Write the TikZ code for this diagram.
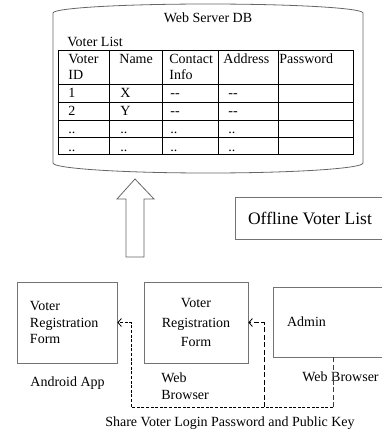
\documentclass[tikz,border=0pt]{standalone}
\usepackage{fontspec}
\setmainfont{Liberation Serif}
\usetikzlibrary{arrows.meta,positioning}

\begin{document}
\begin{tikzpicture}[x=1pt,y=-1pt,line width=0.8pt]
	  \tikzstyle{cell}=[anchor=base west,inner sep=0pt,font=\fontsize{14}{16}\selectfont]
	  \tikzstyle{form}=[draw=black!55,rectangle,inner xsep=0pt,minimum height=81pt,font=\fontsize{14}{16.5}\selectfont]
	  \tikzstyle{label}=[inner sep=0pt,align=left,font=\fontsize{14}{17}\selectfont]
	  \tikzstyle{link}=[dash pattern=on 3pt off 1.6pt,-{Straight Barb[length=3.5pt,width=8pt]}]

	  \useasboundingbox (0,0) rectangle (382,432);

	  % database cylinder
	  \draw[black!60] (53,13) -- (53,163)
	    arc[start angle=180,end angle=360,x radius=155pt,y radius=10pt]
	    -- (363,13)
	    arc[start angle=0,end angle=180,x radius=155pt,y radius=9pt];
	  \node[cell,anchor=center] (DB) at (208,18) {Web Server DB};
	  \node[cell,anchor=west] (VL) at (67,42) {Voter List};

	  % table
	  \draw (58,50) rectangle (353,154);
	  \foreach \y in {84,102,120,137} \draw (58,\y) -- (353,\y);
	  \foreach \x in {109,162,218,278} \draw (\x,50) -- (\x,154);
	  \foreach \x/\y/\t [count=\i] in {68/63.5/Voter,68/79.5/ID,119/63.5/Name,169/63.5/Contact,
	      169/79.5/Info,223/63.5/Address,279/63.5/Password,
	      68/97.5/1,120/97.5/X,170/97.5/-{}-,228/97.5/-{}-,
	      68/115.5/2,120/115.5/Y,170/115.5/-{}-,228/115.5/-{}-,
	      68/133/..,120/133/..,170/133/..,228/133/..,
	      68/151/..,120/151/..,170/151/..,228/151/..}
	    \node[cell] (T\i) at (\x,\y) {\t};

	  % upload arrow
	  \draw[black!60] (135,179) -- (154,199) -- (144,199) -- (144,257) -- (126,257)
	    -- (126,199) -- (117,199) -- cycle;

	  \node[draw=black!55,minimum width=150pt,minimum height=42pt,
	    font=\fontsize{17.5}{20}\selectfont] (O) at (310,218) {Offline Voter List};

	  % clients
	  \node[form,minimum width=100pt,text width=74pt,align=left] (F1) at (67,322.5) {Voter\\Registration\\Form};
	  \node[form,minimum width=104pt,text width=90pt,align=center,
	    font=\fontsize{14}{19.5}\selectfont] (F2) at (196,322.5) {Voter\\Registration\\Form};
	  \node[form,minimum width=112pt,minimum height=70pt,text width=84pt,align=left] (A) at (329,322) {Admin};

	  \node[label,anchor=west] (L1) at (30,383) {Android App};
	  \node[label,anchor=west] (L2) at (161,386.5) {Web\\Browser};
	  \node[label,anchor=west] (L3) at (302,377) {Web Browser};
	  \node[label] (S) at (230,423) {Share Voter Login Password and Public Key};

	  \coordinate (K1) at (131,407);
	  \coordinate (K2) at (264,407);
	  \coordinate (K3) at (333,407);
	  \draw[black!50!blue!60!gray,dash pattern=on 5pt off 2.5pt] ([xshift=4pt]A.south) -- (K3);
	  \draw[link] (K3) -- (K1) |- (F1.east);
	  \draw[link,dash pattern=on 5pt off 2.5pt] (K2) |- (F2.east);
	\end{tikzpicture}
\end{document}
